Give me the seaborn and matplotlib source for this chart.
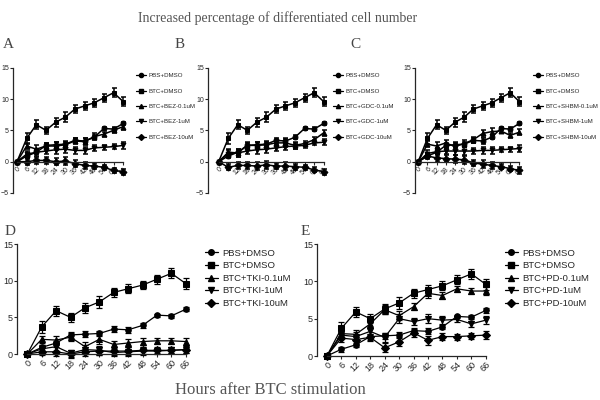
import numpy as np
import pandas as pd
import matplotlib
matplotlib.use("Agg")
import matplotlib.pyplot as plt
import seaborn as sns

# --- DATA ---
HOURS = [0, 6, 12, 18, 24, 30, 36, 42, 48, 54, 60, 66]

PBS_DMSO = [0, 0.9, 1.5, 2.6, 2.7, 2.8, 3.4, 3.3, 3.9, 5.3, 5.2, 6.1]
PBS_ERR = [0, 0.3, 0.3, 0.4, 0.4, 0.4, 0.4, 0.4, 0.3, 0.2, 0.3, 0.3]
BTC_DMSO = [0, 3.7, 5.9, 5.0, 6.3, 7.1, 8.4, 8.9, 9.4, 10.2, 11.0, 9.6]
BTC_ERR = [0, 0.8, 0.7, 0.6, 0.7, 0.8, 0.6, 0.6, 0.6, 0.6, 0.7, 0.7]

BEZ_01 = [0, 2.5, 2.0, 2.5, 2.5, 2.7, 3.3, 3.2, 4.0, 4.4, 5.0, 5.6]
BEZ_1 = [0, 1.2, 1.5, 1.7, 1.9, 2.0, 1.8, 1.8, 2.2, 2.3, 2.4, 2.6]
BEZ_10 = [0, 0.0, 0.2, 0.2, 0.0, 0.1, -0.3, -0.6, -0.7, -0.9, -1.4, -1.6]

GDC_01 = [0, 1.5, 1.4, 2.6, 2.6, 2.7, 3.0, 3.0, 2.6, 2.9, 3.5, 4.6]
GDC_1 = [0, 1.3, 1.4, 1.7, 1.9, 2.0, 2.2, 2.4, 2.5, 2.6, 3.0, 3.1]
GDC_10 = [0, -0.9, -0.6, -0.6, -0.7, -0.5, -0.7, -0.7, -0.8, -0.9, -1.3, -1.6]

SHBM_01 = [0, 2.8, 2.5, 3.0, 2.4, 2.9, 3.5, 4.5, 4.8, 4.9, 4.2, 4.7]
SHBM_1 = [0, 1.3, 1.6, 1.7, 1.7, 1.7, 1.7, 1.8, 1.8, 1.9, 2.0, 2.1]
SHBM_10 = [0, 0.9, 0.6, 0.5, 0.4, 0.3, -0.2, -0.4, -0.6, -0.8, -1.1, -1.4]

TKI_01 = [0, 2.0, 1.9, 2.3, 1.0, 2.0, 1.3, 1.5, 1.7, 1.8, 1.8, 1.7]
TKI_1 = [0, 0.7, 1.0, 0.1, 0.6, 0.5, 0.2, 0.3, 0.4, 0.4, 0.5, 0.6]
TKI_10 = [0, 0.3, 0.3, 0.0, 0.3, 0.4, 0.4, 0.4, 0.5, 0.5, 0.5, 0.6]

PD_01 = [0, 3.0, 2.9, 4.3, 6.2, 5.4, 6.6, 8.4, 8.1, 9.0, 8.7, 8.7]
PD_1 = [0, 2.8, 2.6, 3.3, 2.5, 5.0, 4.6, 5.0, 4.8, 4.9, 4.3, 4.8]
PD_10 = [0, 2.4, 2.2, 2.5, 1.1, 1.9, 3.1, 2.1, 2.6, 2.6, 2.7, 2.8]

DRUG_ERR = [0, 0.5, 0.6, 0.5, 0.6, 0.6, 0.5, 0.6, 0.5, 0.4, 0.4, 0.5]

MARKERS = ['o', 's', '^', 'v', 'D']

sns.set_style("ticks")
plt.rcParams['font.family'] = ['Liberation Sans', 'DejaVu Sans']


def draw_panel(ax, drug, series, xlim, ylim, small):
    names = ["PBS+DMSO", "BTC+DMSO", f"BTC+{drug}-0.1uM", f"BTC+{drug}-1uM", f"BTC+{drug}-10uM"]
    errs = [PBS_ERR, BTC_ERR, DRUG_ERR, DRUG_ERR, DRUG_ERR]
    ms = 3.5 if small else 4
    lw = 1.1 if small else 0.9
    for name, vals, err, mk in zip(names, series, errs, MARKERS):
        df = pd.DataFrame({"h": HOURS, "v": vals})
        sns.lineplot(data=df, x="h", y="v", ax=ax, color="k", marker=mk, markersize=ms,
                     markeredgecolor="k", linewidth=lw, label=name, clip_on=False)
        ax.errorbar(HOURS, vals, yerr=err, fmt='none', ecolor='k', elinewidth=lw,
                    capsize=1.8 if small else 2.5, capthick=lw, clip_on=False)
    ax.set_xlim(*xlim)
    ax.set_ylim(*ylim)
    ax.spines['bottom'].set_position(('data', 0))
    ax.spines['bottom'].set_bounds(0, 66)
    ax.spines['left'].set_bounds(ylim[0] if ylim[0] < 0 else 0, 15)
    sns.despine(ax=ax)
    ax.set_xticks(HOURS)
    ax.set_yticks([-5, 0, 5, 10, 15] if ylim[0] < -1 else [0, 5, 10, 15])
    fs = 5 if small else 6.5
    ax.tick_params(labelsize=fs, length=2, width=0.8, pad=1)
    for lab in ax.get_xticklabels():
        lab.set_rotation(45)
        lab.set_ha('right')
        lab.set_rotation_mode('anchor')
    ax.set_xlabel("")
    ax.set_ylabel("")
    for s in ax.spines.values():
        s.set_linewidth(0.9)
    ax.get_legend().remove()
    return names


fig = plt.figure(figsize=(6, 4), dpi=100)

axA = fig.add_axes([13 / 600, 1 - 193 / 400, 115 / 600, 125.3 / 400])
axB = fig.add_axes([208 / 600, 1 - 193 / 400, 122 / 600, 125.3 / 400])
axC = fig.add_axes([415 / 600, 1 - 193 / 400, 112 / 600, 125.3 / 400])
axD = fig.add_axes([17 / 600, 1 - 354 / 400, 176 / 600, 110 / 400])
axE = fig.add_axes([317 / 600, 1 - 356 / 400, 176 / 600, 112 / 400])

panels = [
    (axA, "BEZ", [PBS_DMSO, BTC_DMSO, BEZ_01, BEZ_1, BEZ_10], (-2.5, 69), (-5, 15), True, (133, 70)),
    (axB, "GDC", [PBS_DMSO, BTC_DMSO, GDC_01, GDC_1, GDC_10], (-6.7, 70), (-5, 15), True, (330, 70)),
    (axC, "SHBM", [PBS_DMSO, BTC_DMSO, SHBM_01, SHBM_1, SHBM_10], (-2.1, 71), (-5, 15), True, (530, 70)),
    (axD, "TKI", [PBS_DMSO, BTC_DMSO, TKI_01, TKI_1, TKI_10], (-4.3, 69), (0, 15), False, (200, 244)),
    (axE, "PD", [PBS_DMSO, BTC_DMSO, PD_01, PD_1, PD_10], (-4.1, 69), (0, 15), False, (500, 244)),
]

for ax, drug, series, xlim, ylim, small, lpos in panels:
    names = draw_panel(ax, drug, series, xlim, ylim, small)
    handles = [plt.Line2D([], [], color='k', marker=m, markersize=3 if small else 4, linewidth=0.9)
               for m in MARKERS]
    fig.legend(handles, names, loc='upper left',
               bbox_to_anchor=(lpos[0] / 600, 1 - lpos[1] / 400),
               frameon=False, handlelength=1.6 if small else 1.4,
               prop={'size': 4.4 if small else 6.8},
               handletextpad=0.5,
               labelspacing=1.65 if small else 0.38, borderpad=0)

serif = ['Liberation Serif', 'DejaVu Serif']
fig.text(278 / 600, 1 - 18 / 400, "Increased percentage of differentiated cell number",
         ha='center', va='center', fontsize=10, color='#555555', family=serif)
for lbl, x, y in [("A", 8, 45), ("B", 180, 45), ("C", 355, 45), ("D", 10, 232), ("E", 305, 232)]:
    fig.text(x / 600, 1 - y / 400, lbl, ha='center', va='center', fontsize=11,
             color='#444444', family=serif)
fig.text(270 / 600, 1 - 390 / 400, "Hours after BTC stimulation", ha='center', va='center',
         fontsize=12, color='#555555', family=serif)

fig.savefig("out.png", dpi=100)
